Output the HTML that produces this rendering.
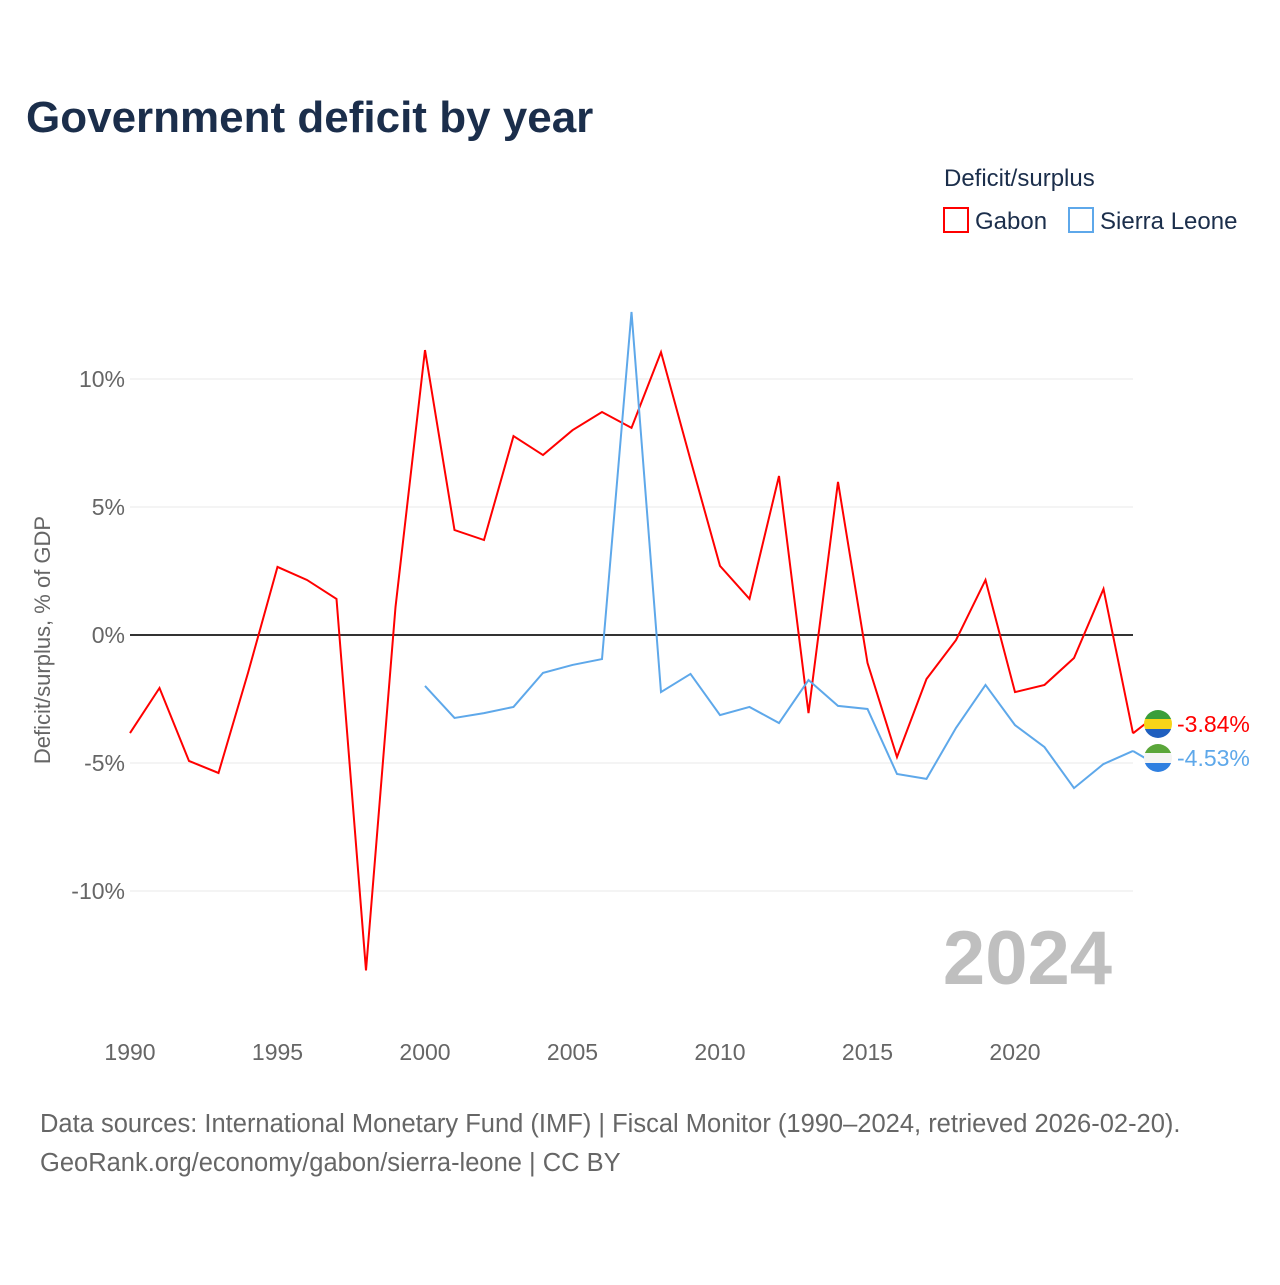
<!DOCTYPE html>
<html><head><meta charset="utf-8"><style>
body{margin:0;background:#fff;font-family:"Liberation Sans",sans-serif;}
svg text{font-family:"Liberation Sans",sans-serif;}
</style></head><body>
<svg width="1280" height="1280" viewBox="0 0 1280 1280" xmlns="http://www.w3.org/2000/svg">
<defs>
<clipPath id="c1"><circle cx="1158" cy="724" r="14"/></clipPath>
<clipPath id="c2"><circle cx="1158" cy="758" r="14"/></clipPath>
</defs>
<text x="26" y="132" font-size="44" font-weight="bold" fill="#1b2e4b">Government deficit by year</text>
<text x="944" y="186" font-size="24" fill="#1b2e4b">Deficit/surplus</text>
<g><rect x="944" y="208" width="24" height="24" fill="none" stroke="#ff0000" stroke-width="2"/><text x="975" y="229" font-size="24" fill="#1b2e4b">Gabon</text></g>
<g><rect x="1069" y="208" width="24" height="24" fill="none" stroke="#5ea8ea" stroke-width="2"/><text x="1100" y="229" font-size="24" fill="#1b2e4b">Sierra Leone</text></g>
<text transform="translate(50,640) rotate(-90)" text-anchor="middle" font-size="22" fill="#666">Deficit/surplus, % of GDP</text>
<g id="grid"></g><g id="series"></g>
<text x="1112" y="984" text-anchor="end" font-size="76" font-weight="bold" fill="#bfbfbf">2024</text>
<text x="40" y="1132" font-size="25.5" fill="#666">Data sources: International Monetary Fund (IMF) | Fiscal Monitor (1990–2024, retrieved 2026-02-20).</text>
<text x="40" y="1171" font-size="25.5" fill="#666">GeoRank.org/economy/gabon/sierra-leone | CC BY</text>
</svg>
<script>
const years=[];for(let y=1990;y<=2024;y++)years.push(y);
const gabon=[-3.83,-2.07,-4.92,-5.39,-1.48,2.66,2.15,1.41,-13.1,1.09,11.13,4.1,3.71,7.77,7.03,8.0,8.71,8.09,11.05,6.84,2.7,1.41,6.21,-3.05,5.98,-1.09,-4.77,-1.72,-0.2,2.15,-2.23,-1.95,-0.9,1.8,-3.84];
const slYears=[];for(let y=2000;y<=2024;y++)slYears.push(y);
const sierra=[-1.99,-3.24,-3.05,-2.81,-1.48,-1.17,-0.94,12.62,-2.23,-1.52,-3.13,-2.81,-3.44,-1.76,-2.77,-2.89,-5.43,-5.62,-3.63,-1.95,-3.52,-4.38,-5.98,-5.04,-4.53];
const yTicks=[10,5,0,-5,-10];
const xTicks=[1990,1995,2000,2005,2010,2015,2020];
const xs=y=>130+(y-1990)*29.5;
const ys=v=>635-v*25.6;
const NS="http://www.w3.org/2000/svg";
const grid=document.getElementById('grid'),ser=document.getElementById('series');
function mk(tag,attrs,parent){const e=document.createElementNS(NS,tag);for(const k in attrs)e.setAttribute(k,attrs[k]);parent.appendChild(e);return e;}
yTicks.forEach(t=>{
 const l=mk('line',{x1:130,x2:1133,y1:ys(t),y2:ys(t),stroke:t===0?'#333':'#e8e8e8','stroke-width':t===0?2:1},grid);
 
 
 const tx=mk('text',{x:125,y:ys(t)+8,'text-anchor':'end','font-size':23,fill:'#666'},grid);tx.textContent=t+'%';
 
 
});
xTicks.forEach(t=>{
 const tx=mk('text',{x:xs(t),y:1060,'text-anchor':'middle','font-size':23,fill:'#666'},grid);tx.textContent=t;
 
 
});
function line(xv,yv,color,name){
 const p=mk('polyline',{points:xv.map((x,i)=>xs(x)+','+ys(yv[i])).join(' '),fill:'none',stroke:color,'stroke-width':2},ser);
 
 
}
line(years,gabon,'#ff0000','gabon-line');
line(slYears,sierra,'#5ea8ea','sierra-leone-line');
function endLabel(v,y,color,c1,c2,c3,name,clip){
 const g=mk('g',{},ser);
 
 
 mk('line',{x1:1133,y1:ys(v),x2:1145,y2:y,stroke:color,'stroke-width':2},g);
 const f=mk('g',{'clip-path':'url(#'+clip+')'},g);
 mk('rect',{x:1144,y:y-15,width:28,height:10,fill:c1},f);
 mk('rect',{x:1144,y:y-5,width:28,height:10,fill:c2},f);
 mk('rect',{x:1144,y:y+5,width:28,height:10,fill:c3},f);
 const t=mk('text',{x:1177,y:y+8,'font-size':23,fill:color},g);t.textContent=v.toFixed(2)+'%';
}
endLabel(gabon[gabon.length-1],724,'#ff0000','#3a9e3a','#f7d417','#1f5fbf','gabon-end-label','c1');
endLabel(sierra[sierra.length-1],758,'#5ea8ea','#5aa63a','#f4f4f4','#2f7fe0','sierra-leone-end-label','c2');
</script>
</body></html>
